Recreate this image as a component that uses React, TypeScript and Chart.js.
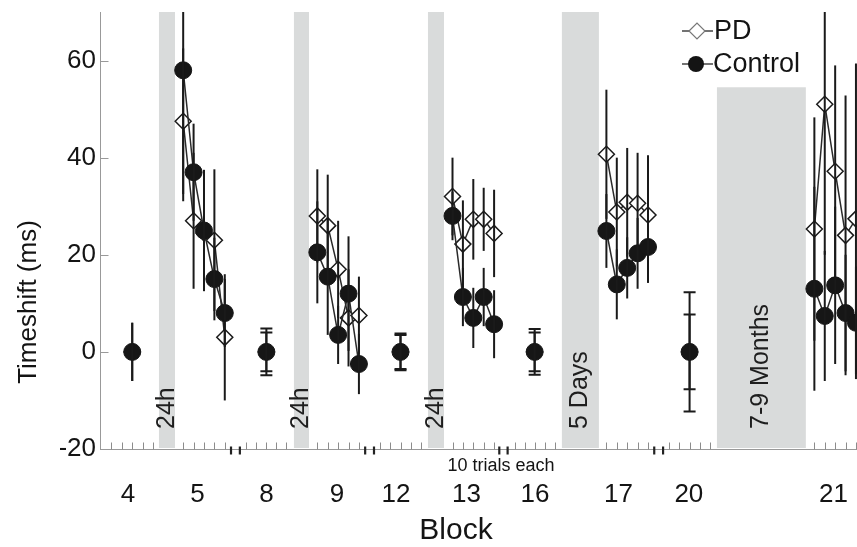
import React, { useEffect, useRef } from 'react';
import { Chart, registerables } from 'chart.js';

Chart.register(...registerables);

// ---- data ----
const pointBlock = [4, 5, 5, 5, 5, 5, 8, 9, 9, 9, 9, 9, 12, 13, 13, 13, 13, 13, 16, 17, 17, 17, 17, 17, 20, 21, 21, 21, 21, 21];
const pointX = [3.1, 8.0, 9.0, 10.0, 11.0, 12.0, 16.0, 20.9, 21.9, 22.9, 23.9, 24.9, 28.9, 33.9, 34.9, 35.9, 36.9, 37.9, 41.8, 48.7, 49.7, 50.7, 51.7, 52.7, 56.7, 68.7, 69.7, 70.7, 71.7, 72.7];

const pdMean = [0, 47.5, 27, 24.5, 23, 3, 0, 28, 26, 17, 7, 7.5, 0, 32, 22.2, 27.3, 27.3, 24.4, 0, 40.7, 28.8, 30.8, 30.6, 28.2, 0, 25.3, 51, 37.2, 24, 27.4];
const pdErr = [6, 15, 14, 10, 14.6, 13, 4.8, 9.6, 10.5, 10, 10, 8, 3.8, 8, 9, 8.3, 6.5, 9, 4.7, 13.3, 11.2, 11.2, 10.4, 12.3, 12.3, 23, 31, 21.8, 28.8, 32];
const controlMean = [0, 58, 37, 25, 15, 8, 0, 20.5, 15.5, 3.5, 12, -2.5, 0, 28, 11.3, 7, 11.3, 5.7, 0, 24.9, 13.9, 17.3, 20.3, 21.6, 0, 13, 7.4, 13.7, 8, 6];
const controlErr = [6, 27, 10, 12.5, 8.5, 7, 4, 10.5, 12, 6, 11.8, 6.2, 3.5, 5, 6, 6.2, 6, 7, 4, 7.6, 7.2, 6.3, 7.3, 7.4, 7.7, 21, 13.4, 16.2, 12, 11.6];
const cappedBlocks = [8, 12, 16, 20];

const blockLabels = ['4', '5', '8', '9', '12', '13', '16', '17', '20', '21'];
const blockLabelX = [2.69, 9.37, 16.0, 22.8, 28.46, 35.24, 41.83, 49.86, 56.63, 70.53];

const yTickValues = [-20, 0, 20, 40, 60];

const minorTicks = [1.1, 2.1, 3.1, 4.1, 5.1, 8.0, 9.0, 10.0, 11.0, 12.0, 14.0, 15.0, 16.0, 16.9, 17.9, 20.9, 21.9, 22.9, 23.9, 24.9, 26.9, 27.9, 28.9, 29.9, 30.9, 33.9, 34.9, 35.9, 36.9, 37.9, 39.9, 40.9, 41.8, 42.8, 43.8, 48.7, 49.7, 50.7, 51.7, 52.7, 54.7, 55.7, 56.7, 57.7, 58.7, 68.7, 69.7, 70.7, 71.7, 72.7];
const breakMarks = [12.6, 13.45, 25.5, 26.35, 38.4, 39.2, 53.3, 54.15];

const bandStart = [5.67, 18.65, 31.54, 44.42, 59.33];
const bandEnd = [7.21, 20.1, 33.08, 47.98, 67.88];
const bandTop = [70, 70, 70, 70, 54.5];
const bandLabel = ['24h', '24h', '24h', '5 Days', '7-9 Months'];

const FONT = '"Liberation Sans", Arial, Helvetica, sans-serif';

function buildSeries(means: number[]) {
  const pts: { x: number; y: number | null }[] = [];
  pointX.forEach((xv, i) => {
    if (i > 0 && pointBlock[i] !== pointBlock[i - 1]) {
      pts.push({ x: (pointX[i - 1] + xv) / 2, y: null });
    }
    pts.push({ x: xv, y: means[i] });
  });
  return pts;
}

const decorPlugin = {
  id: 'decor',
  beforeDraw(chart: any) {
    const { ctx, width, height } = chart;
    ctx.save();
    ctx.fillStyle = '#ffffff';
    ctx.fillRect(0, 0, width, height);
    ctx.restore();
  },
  beforeDatasetsDraw(chart: any) {
    const { ctx, chartArea, scales } = chart;
    const x = scales.x;
    const y = scales.y;
    ctx.save();
    for (let i = 0; i < bandStart.length; i++) {
      const x0 = x.getPixelForValue(bandStart[i]);
      const x1 = x.getPixelForValue(bandEnd[i]);
      const yt = y.getPixelForValue(bandTop[i]);
      ctx.fillStyle = '#d9dbdb';
      ctx.fillRect(x0, yt, x1 - x0, chartArea.bottom - 1 - yt);
    }
    ctx.fillStyle = '#1e1e1e';
    ctx.font = `25px ${FONT}`;
    ctx.textAlign = 'left';
    ctx.textBaseline = 'middle';
    for (let i = 0; i < bandStart.length; i++) {
      const cx = (x.getPixelForValue(bandStart[i]) + x.getPixelForValue(bandEnd[i])) / 2;
      ctx.save();
      ctx.translate(cx, chartArea.bottom - 20);
      ctx.rotate(-Math.PI / 2);
      ctx.fillText(bandLabel[i], 0, 0);
      ctx.restore();
    }
    ctx.restore();
  },
  afterDatasetsDraw(chart: any) {
    const { ctx, chartArea, scales } = chart;
    const x = scales.x;
    const y = scales.y;
    // error bars
    ctx.save();
    ctx.beginPath();
    ctx.rect(chartArea.left, chartArea.top, chartArea.right - chartArea.left, chartArea.bottom - chartArea.top);
    ctx.clip();
    ctx.strokeStyle = '#1a1a1a';
    ctx.lineWidth = 2;
    const drawBar = (xv: number, m: number, e: number, cap: boolean) => {
      const px = x.getPixelForValue(xv);
      const yTop = y.getPixelForValue(m + e);
      const yBot = y.getPixelForValue(m - e);
      ctx.beginPath();
      ctx.moveTo(px, yTop);
      ctx.lineTo(px, yBot);
      if (cap) {
        ctx.moveTo(px - 6, yTop);
        ctx.lineTo(px + 6, yTop);
        ctx.moveTo(px - 6, yBot);
        ctx.lineTo(px + 6, yBot);
      }
      ctx.stroke();
    };
    pointX.forEach((xv, i) => {
      const cap = cappedBlocks.includes(pointBlock[i]);
      drawBar(xv, pdMean[i], pdErr[i], cap);
      drawBar(xv, controlMean[i], controlErr[i], cap);
    });
    ctx.restore();

    // minor ticks on x axis (inward)
    ctx.save();
    ctx.strokeStyle = '#8c8c8c';
    ctx.lineWidth = 1;
    const yb = Math.round(chartArea.bottom) + 0.5;
    minorTicks.forEach((v) => {
      const px = Math.round(x.getPixelForValue(v)) + 0.5;
      ctx.beginPath();
      ctx.moveTo(px, yb - 7);
      ctx.lineTo(px, yb);
      ctx.stroke();
    });
    // axis break marks
    ctx.strokeStyle = '#222';
    ctx.lineWidth = 2.2;
    breakMarks.forEach((v) => {
      const px = x.getPixelForValue(v);
      ctx.beginPath();
      ctx.moveTo(px, yb - 3);
      ctx.lineTo(px, yb + 5);
      ctx.stroke();
    });
    // inward y ticks
    ctx.strokeStyle = '#999';
    ctx.lineWidth = 1;
    const xl = Math.round(chartArea.left) + 0.5;
    yTickValues.forEach((v) => {
      if (v === -20) return;
      const py = Math.round(y.getPixelForValue(v)) + 0.5;
      ctx.beginPath();
      ctx.moveTo(xl, py);
      ctx.lineTo(xl + 8, py);
      ctx.stroke();
    });
    ctx.restore();
  },
  afterDraw(chart: any) {
    const { ctx, chartArea } = chart;
    ctx.save();
    ctx.fillStyle = '#141414';
    // y title
    ctx.font = `26px ${FONT}`;
    ctx.textAlign = 'center';
    ctx.textBaseline = 'middle';
    ctx.save();
    ctx.translate(29, 302);
    ctx.rotate(-Math.PI / 2);
    ctx.fillText('Timeshift (ms)', 0, 0);
    ctx.restore();
    // x title
    ctx.font = `30px ${FONT}`;
    ctx.fillText('Block', 456, chartArea.bottom + 82);
    // note
    ctx.font = `18px ${FONT}`;
    ctx.fillText('10 trials each', 501, chartArea.bottom + 17);

    // legend
    const lx0 = 682;
    const lx1 = 713;
    const rows = [31, 64];
    ctx.strokeStyle = '#444';
    ctx.lineWidth = 1.5;
    rows.forEach((ry) => {
      ctx.beginPath();
      ctx.moveTo(lx0, ry);
      ctx.lineTo(lx1, ry);
      ctx.stroke();
    });
    // PD diamond
    const dx = 697;
    const dy = rows[0];
    const r = 8;
    ctx.beginPath();
    ctx.moveTo(dx - r, dy);
    ctx.lineTo(dx, dy - r);
    ctx.lineTo(dx + r, dy);
    ctx.lineTo(dx, dy + r);
    ctx.closePath();
    ctx.fillStyle = '#ffffff';
    ctx.fill();
    ctx.strokeStyle = '#777';
    ctx.lineWidth = 1.2;
    ctx.stroke();
    // Control circle
    ctx.beginPath();
    ctx.arc(696, rows[1], 8, 0, Math.PI * 2);
    ctx.fillStyle = '#141414';
    ctx.fill();
    ctx.fillStyle = '#141414';
    ctx.font = `27px ${FONT}`;
    ctx.textAlign = 'left';
    ctx.textBaseline = 'middle';
    ctx.fillText('PD', 714, rows[0] + 1);
    ctx.fillText('Control', 713, rows[1] + 1);
    ctx.restore();
  },
};

export default function App() {
  const canvasRef = useRef<HTMLCanvasElement | null>(null);

  useEffect(() => {
    const canvas = canvasRef.current;
    if (!canvas) return;
    const chart = new Chart(canvas, {
      type: 'line',
      data: {
        datasets: [
          {
            label: 'Control',
            data: buildSeries(controlMean),
            order: 0,
            pointStyle: 'circle',
            pointRadius: 8.5,
            pointBackgroundColor: '#161616',
            pointBorderColor: '#161616',
            pointBorderWidth: 1,
            borderColor: '#2a2a2a',
            borderWidth: 1.5,
            spanGaps: false,
            tension: 0,
          },
          {
            label: 'PD',
            data: buildSeries(pdMean),
            order: 1,
            pointStyle: 'rectRot',
            pointRadius: 8,
            pointBackgroundColor: '#ffffff',
            pointBorderColor: '#1a1a1a',
            pointBorderWidth: 1.5,
            borderColor: '#2a2a2a',
            borderWidth: 1.5,
            spanGaps: false,
            tension: 0,
          },
        ] as any,
      },
      options: {
        animation: false,
        responsive: false,
        events: [],
        layout: { autoPadding: false, padding: { left: 60, top: 12, right: 0, bottom: 0 } },
        plugins: {
          legend: { display: false },
          tooltip: { enabled: false },
        },
        scales: {
          x: {
            type: 'linear',
            min: 0,
            max: 72.8,
            grid: { display: false, drawTicks: false },
            border: { display: true, color: '#999', width: 1 },
            afterBuildTicks: (scale: any) => {
              scale.ticks = blockLabelX.map((v) => ({ value: v }));
            },
            afterFit: (scale: any) => {
              scale.height = 98;
              scale.paddingLeft = 0;
              scale.paddingRight = 0;
            },
            ticks: {
              autoSkip: false,
              maxRotation: 0,
              padding: 30,
              color: '#141414',
              font: { family: FONT, size: 26 },
              callback: (_v: any, index: number) => blockLabels[index],
            },
          },
          y: {
            type: 'linear',
            min: -20,
            max: 70,
            grid: { display: false, drawTicks: false },
            border: { display: true, color: '#999', width: 1 },
            afterBuildTicks: (scale: any) => {
              scale.ticks = yTickValues.map((v) => ({ value: v }));
            },
            afterFit: (scale: any) => {
              scale.width = 40;
              scale.paddingTop = 0;
              scale.paddingBottom = 0;
            },
            ticks: {
              padding: 4,
              color: '#141414',
              font: { family: FONT, size: 26 },
            },
          },
        },
      } as any,
      plugins: [decorPlugin],
    });
    return () => chart.destroy();
  }, []);

  return (
    <div style={{ position: 'absolute', left: 0, top: 0, width: 857, height: 547 }}>
      <canvas ref={canvasRef} width={857} height={547} style={{ display: 'block' }} />
    </div>
  );
}
